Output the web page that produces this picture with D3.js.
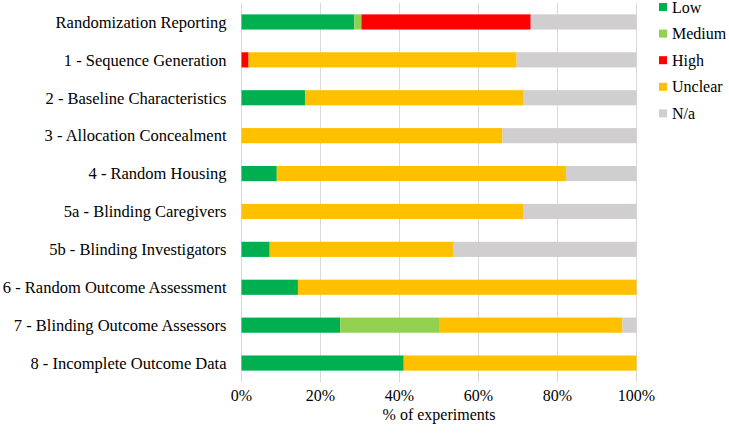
<!DOCTYPE html>
<html>
<head>
<meta charset="utf-8">
<title>Risk of bias</title>
<script src="https://d3js.org/d3.v7.min.js"></script>
<style>
  body { margin: 0; background: #fff; }
  svg { display: block; }
</style>
</head>
<body>
<svg width="729" height="435"></svg>
<script>
// categories (top to bottom)
const categories = [
  "Randomization Reporting",
  "1 - Sequence Generation",
  "2 - Baseline Characteristics",
  "3 - Allocation Concealment",
  "4 - Random Housing",
  "5a - Blinding Caregivers",
  "5b - Blinding Investigators",
  "6 - Random Outcome Assessment",
  "7 - Blinding Outcome Assessors",
  "8 - Incomplete Outcome Data"
];
const seriesNames = ["Low", "Medium", "High", "Unclear", "N/a"];
const seriesColors = ["#00b050", "#92d050", "#ff0000", "#ffc000", "#d0cece"];

// % of experiments per category
const low     = [28.57, 0, 16.07, 0, 8.93, 0, 7.14, 14.29, 25.0, 41.07];
const medium  = [1.79, 0, 0, 0, 0, 0, 0, 0, 25.0, 0];
const high    = [42.86, 1.79, 0, 0, 0, 0, 0, 0, 0, 0];
const unclear = [0, 67.86, 55.36, 66.07, 73.21, 71.43, 46.43, 85.71, 46.43, 58.93];
const na      = [26.79, 30.36, 28.57, 33.93, 17.86, 28.57, 46.43, 0, 3.57, 0];
const xTicks = [0, 20, 40, 60, 80, 100];

const svg = d3.select("svg")
  .attr("font-family", "'Liberation Serif', 'Times New Roman', Times, serif");
const m = { left: 241.5, right: 636.5, top: 3, bottom: 382 };

const rows = categories.map((c, i) => ({
  cat: c, Low: low[i], Medium: medium[i], High: high[i], Unclear: unclear[i], "N/a": na[i]
}));
const stacked = d3.stack().keys(seriesNames)(rows);

const x = d3.scaleLinear().domain([0, 100]).range([m.left, m.right]);
const y = d3.scaleBand().domain(categories).range([m.top, m.bottom]).paddingInner(0.6).paddingOuter(0.3);
const color = d3.scaleOrdinal().domain(seriesNames).range(seriesColors);

// gridlines
svg.append("g")
  .selectAll("line")
  .data(xTicks)
  .join("line")
  .attr("x1", d => x(d)).attr("x2", d => x(d))
  .attr("y1", m.top).attr("y2", m.bottom)
  .attr("stroke", "#d9d9d9").attr("stroke-width", 1);

// bars
svg.append("g")
  .selectAll("g")
  .data(stacked)
  .join("g")
  .attr("fill", d => color(d.key))
  .selectAll("rect")
  .data(d => d)
  .join("rect")
  .attr("x", d => x(d[0]))
  .attr("y", d => y(d.data.cat))
  .attr("width", d => x(d[1]) - x(d[0]))
  .attr("height", y.bandwidth());

// category labels
svg.append("g")
  .selectAll("text")
  .data(categories)
  .join("text")
  .attr("x", 226.5)
  .attr("y", d => y(d) + y.bandwidth() / 2)
  .attr("dy", "0.35em")
  .attr("text-anchor", "end")
  .attr("font-size", 16.5)
  .text(d => d);

// x tick labels
svg.append("g")
  .selectAll("text")
  .data(xTicks)
  .join("text")
  .attr("x", d => x(d))
  .attr("y", 401)
  .attr("text-anchor", "middle")
  .attr("font-size", 16)
  .text(d => d + "%");

svg.append("text")
  .attr("x", (m.left + m.right) / 2)
  .attr("y", 420)
  .attr("text-anchor", "middle")
  .attr("font-size", 16)
  .text("% of experiments");

// legend
const legend = svg.append("g")
  .selectAll("g")
  .data(seriesNames)
  .join("g")
  .attr("transform", (d, i) => `translate(659,${7 + i * 26.6})`);
legend.append("rect")
  .attr("x", 0).attr("y", -4).attr("width", 8).attr("height", 8)
  .attr("fill", d => color(d));
legend.append("text")
  .attr("x", 13).attr("y", 0).attr("dy", "0.35em")
  .attr("font-size", 16)
  .text(d => d);
</script>
</body>
</html>
